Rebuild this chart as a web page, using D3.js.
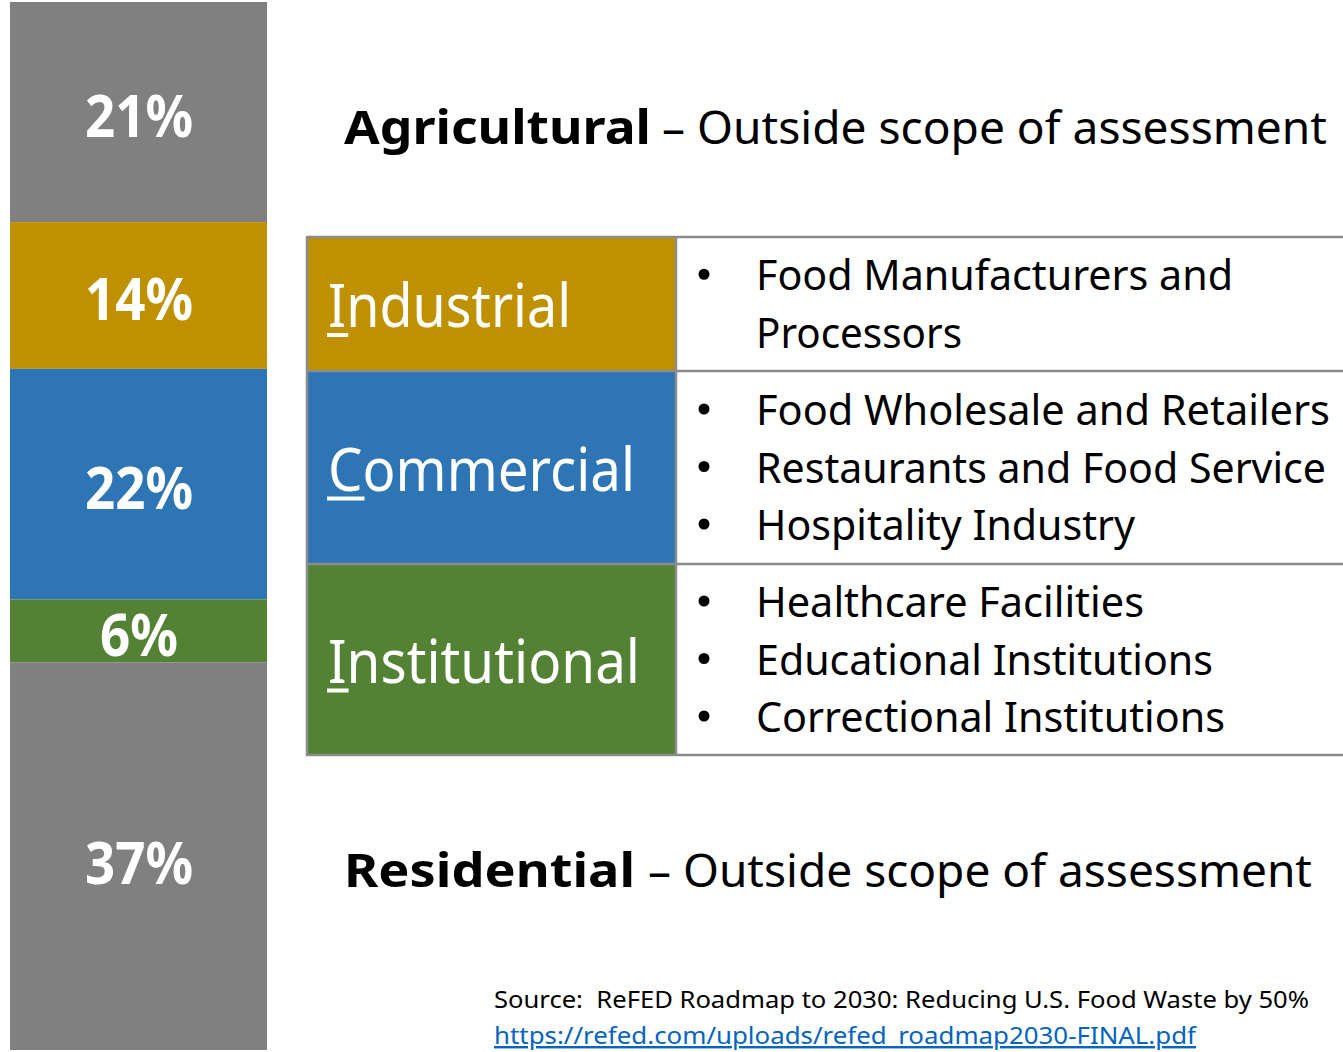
<!DOCTYPE html>
<html>
<head>
<meta charset="utf-8">
<script src="https://cdn.jsdelivr.net/npm/d3@7"></script>
<style>
  html, body { margin: 0; padding: 0; background: #fff; }
  svg { display: block; font-family: "Noto Sans", "Open Sans", sans-serif; }
</style>
</head>
<body>
<div id="chart"></div>
<script>
// food waste by sector, share of total (%)
var sectors = ["Agricultural", "Industrial", "Commercial", "Institutional", "Residential"];
var shares = [21, 14, 22, 6, 37];
var sectorColors = ["#808080", "#BF9000", "#2E75B6", "#548235", "#808080"];

// sectors covered by the assessment and their members
var tableSectors = ["Industrial", "Commercial", "Institutional"];
var industrialItems = ["Food Manufacturers and", "Processors"];
var commercialItems = ["Food Wholesale and Retailers", "Restaurants and Food Service", "Hospitality Industry"];
var institutionalItems = ["Healthcare Facilities", "Educational Institutions", "Correctional Institutions"];
var outsideNote = "– Outside scope of assessment";
var sourceText = "Source:  ReFED Roadmap to 2030: Reducing U.S. Food Waste by 50%";
var sourceLink = "https://refed.com/uploads/refed_roadmap2030-FINAL.pdf";

var width = 1343, height = 1052;

var svg = d3.select("#chart").append("svg")
    .attr("width", width)
    .attr("height", height);

// squeeze a text node to a given width
function fit(sel, w) {
    sel.attr("textLength", w).attr("lengthAdjust", "spacingAndGlyphs");
    return sel;
}

// ---- stacked bar ----
var y = d3.scaleLinear().domain([0, 100]).range([2, 1050]);
var x = d3.scaleBand().domain(["all"]).range([10, 267]).padding(0);

var cum = d3.cumsum(shares);
var stackData = shares.map(function(v, i) {
    return { name: sectors[i], value: v, y0: cum[i] - v, y1: cum[i], color: sectorColors[i] };
});

var bar = svg.append("g").attr("class", "bar");

bar.selectAll("rect")
    .data(stackData)
    .enter().append("rect")
    .attr("x", x("all"))
    .attr("width", x.bandwidth())
    .attr("y", function(d) { return y(d.y0); })
    .attr("height", function(d) { return y(d.y1) - y(d.y0); })
    .attr("fill", function(d) { return d.color; });

bar.selectAll("text")
    .data(stackData)
    .enter().append("text")
    .attr("x", x("all") + x.bandwidth() / 2 + 0.5)
    .attr("y", function(d) { return (y(d.y0) + y(d.y1)) / 2 + (d.value > 30 ? 28 : 25); })
    .attr("text-anchor", "middle")
    .attr("fill", "#fff")
    .attr("font-weight", "bold")
    .attr("font-size", 60)
    .text(function(d) { return d.value + "%"; })
    .each(function(d) {
        fit(d3.select(this), d.value < 10 ? 78 : 108);
    });

// ---- outside-scope headings ----
function heading(name, yBase, boldW, restX, restW) {
    var g = svg.append("g");
    fit(g.append("text")
        .attr("x", 344).attr("y", yBase)
        .attr("font-weight", "bold").attr("font-size", 46)
        .text(name), boldW);
    fit(g.append("text")
        .attr("x", restX).attr("y", yBase)
        .attr("font-size", 46)
        .text(outsideNote), restW);
}
heading(sectors[0], 144, 307, 662, 665);
heading(sectors[4], 887, 291, 648, 664);

// ---- table ----
var rowTops = [237, 371, 564, 755];
var colX = [307, 676, 1343];
var tableItems = [industrialItems, commercialItems, institutionalItems];
var tableColors = tableSectors.map(function(s) { return sectorColors[sectors.indexOf(s)]; });
var labelW = { "Industrial": 243, "Commercial": 307, "Institutional": 312 };
var itemW = {
    "Food Manufacturers and": 477, "Processors": 206,
    "Food Wholesale and Retailers": 574, "Restaurants and Food Service": 570,
    "Hospitality Industry": 379, "Healthcare Facilities": 388,
    "Educational Institutions": 457, "Correctional Institutions": 469
};

var table = svg.append("g").attr("class", "table");

tableSectors.forEach(function(name, i) {
    var top = rowTops[i], bot = rowTops[i + 1], mid = (top + bot) / 2;

    table.append("rect")
        .attr("x", colX[0]).attr("y", top)
        .attr("width", colX[1] - colX[0]).attr("height", bot - top)
        .attr("fill", tableColors[i]);

    var base = mid + 23;
    var lbl = table.append("text")
        .attr("x", 328).attr("y", base)
        .attr("fill", "#fff").attr("font-size", 60)
        .text(name);
    fit(lbl, labelW[name]);

    // underline the access-key letter
    var node = lbl.node();
    var ratio = node.getSubStringLength(0, 1) / node.getComputedTextLength();
    var firstW = labelW[name] * ratio;
    table.append("rect")
        .attr("x", 327).attr("y", base + 6)
        .attr("width", firstW + 3).attr("height", 4)
        .attr("fill", "#fff");

    var items = tableItems[i];
    var step = 57.5;
    var first = mid - (items.length - 1) * step / 2 + 15;
    items.forEach(function(item, j) {
        var yy = first + j * step;
        var isWrap = (i === 0 && j === 1);
        if (!isWrap) {
            table.append("circle")
                .attr("cx", 704).attr("cy", yy - 16).attr("r", 5.5)
                .attr("fill", "#000");
        }
        fit(table.append("text")
            .attr("x", 756).attr("y", yy)
            .attr("font-size", 42).attr("fill", "#000")
            .text(item), itemW[item]);
    });
});

// grid lines
var lineColor = "#8c8c8c";
rowTops.forEach(function(t) {
    table.append("line")
        .attr("x1", colX[0] - 1).attr("x2", colX[2])
        .attr("y1", t).attr("y2", t)
        .attr("stroke", lineColor).attr("stroke-width", 2.5);
});
[colX[0], colX[1]].forEach(function(cx) {
    table.append("line")
        .attr("x1", cx).attr("x2", cx)
        .attr("y1", rowTops[0]).attr("y2", rowTops[3])
        .attr("stroke", lineColor).attr("stroke-width", 2.5);
});

// ---- source ----
fit(svg.append("text")
    .attr("x", 494).attr("y", 1008)
    .attr("font-size", 24).attr("fill", "#000")
    .style("white-space", "pre")
    .text(sourceText), 815);
fit(svg.append("text")
    .attr("x", 494).attr("y", 1044)
    .attr("font-size", 24).attr("fill", "#0563C1")
    .attr("text-decoration", "underline")
    .text(sourceLink), 702);
</script>
</body>
</html>
